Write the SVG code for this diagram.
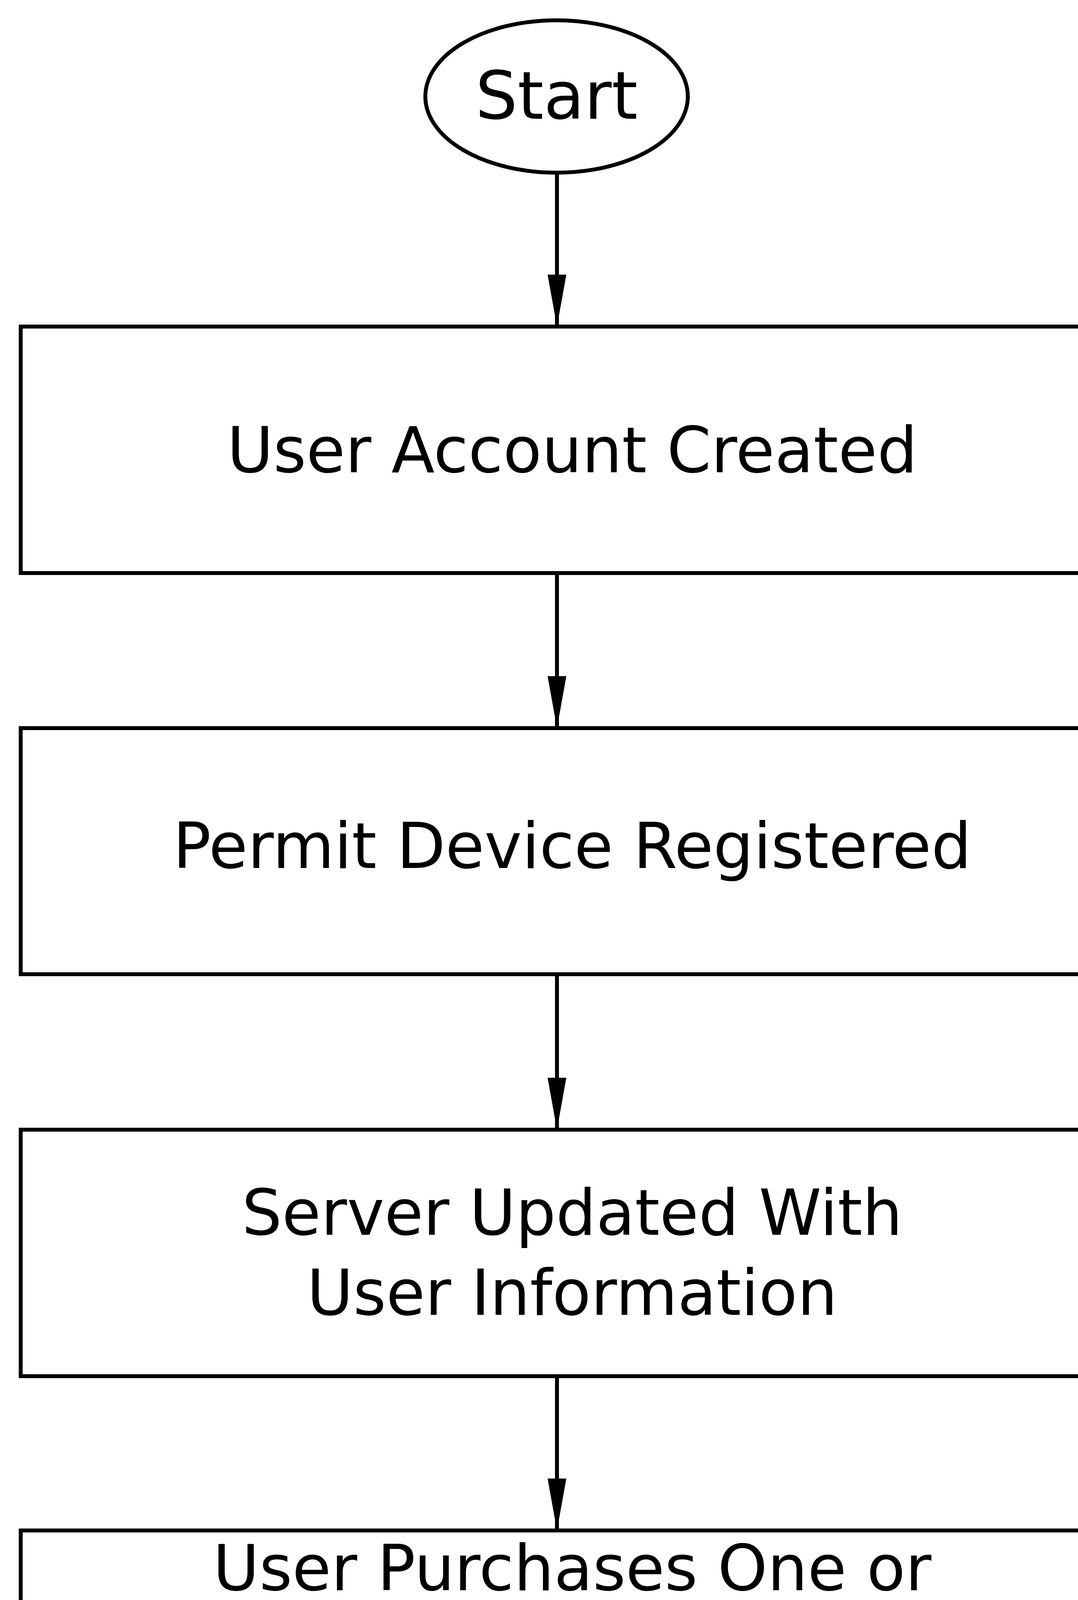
<svg xmlns="http://www.w3.org/2000/svg" width="2760" height="6337" viewBox="0 0 2760 6337">
  <style>
    .shape { fill: #ffffff; stroke: #000000; stroke-width: 10; }
    .conn { fill: none; stroke: #000000; stroke-width: 10; }
    .lbl { font-family: "DejaVu Sans", Verdana, sans-serif; font-size: 162px; fill: #000000; text-anchor: middle; }
    .term { font-family: "DejaVu Sans", Verdana, sans-serif; font-size: 170px; fill: #000000; text-anchor: middle; }
  </style>
  <defs>
    <marker id="arrow" markerUnits="userSpaceOnUse" markerWidth="133" markerHeight="48" viewBox="0 0 133 48" refX="133" refY="24" orient="auto">
      <path d="M0,0 L133,24 L0,48 Z" fill="#000000"/>
    </marker>
  </defs>
  <rect x="0" y="0" width="2760" height="6337" fill="#ffffff"/>

  <g id="connectors">
    <line class="conn" x1="1426" y1="442" x2="1426" y2="836" marker-end="url(#arrow)"/>
    <line class="conn" x1="1426" y1="1467" x2="1426" y2="1864" marker-end="url(#arrow)"/>
    <line class="conn" x1="1426" y1="2494" x2="1426" y2="2892" marker-end="url(#arrow)"/>
    <line class="conn" x1="1426" y1="3523" x2="1426" y2="3918" marker-end="url(#arrow)"/>
    <line class="conn" x1="1426" y1="4550" x2="1426" y2="4945" marker-end="url(#arrow)"/>
    <line class="conn" x1="1426" y1="5577" x2="1426" y2="5972" marker-end="url(#arrow)"/>
  </g>

  <g id="start">
    <ellipse class="shape" cx="1425" cy="247" rx="336" ry="195"/>
    <text class="term" x="1425" y="304">Start</text>
  </g>

  <g id="step1">
    <rect class="shape" x="53" y="836" width="2820" height="631"/>
    <text class="lbl" x="1465" y="1209">User Account Created</text>
  </g>

  <g id="step2">
    <rect class="shape" x="53" y="1864" width="2820" height="630"/>
    <text class="lbl" x="1465" y="2222">Permit Device Registered</text>
  </g>

  <g id="step3">
    <rect class="shape" x="53" y="2892" width="2820" height="631"/>
    <text class="lbl" x="1465" y="3161">Server Updated With</text>
    <text class="lbl" x="1465" y="3366">User Information</text>
  </g>

  <g id="step4">
    <rect class="shape" x="53" y="3918" width="2820" height="632"/>
    <text class="lbl" x="1465" y="4071">User Purchases One or</text>
    <text class="lbl" x="1465" y="4275">More Parking Permits</text>
    <text class="lbl" x="1465" y="4480">(Optional)</text>
  </g>

  <g id="step5">
    <rect class="shape" x="53" y="4945" width="2820" height="632"/>
    <text class="lbl" x="1465" y="5100">Server Associates User</text>
    <text class="lbl" x="1465" y="5302">Account, Permit Device, and</text>
    <text class="lbl" x="1465" y="5505">Parking Permit(s) in Database</text>
  </g>

  <g id="end">
    <ellipse class="shape" cx="1426" cy="6170" rx="336" ry="198"/>
    <text class="term" x="1426" y="6227">End</text>
  </g>
</svg>
